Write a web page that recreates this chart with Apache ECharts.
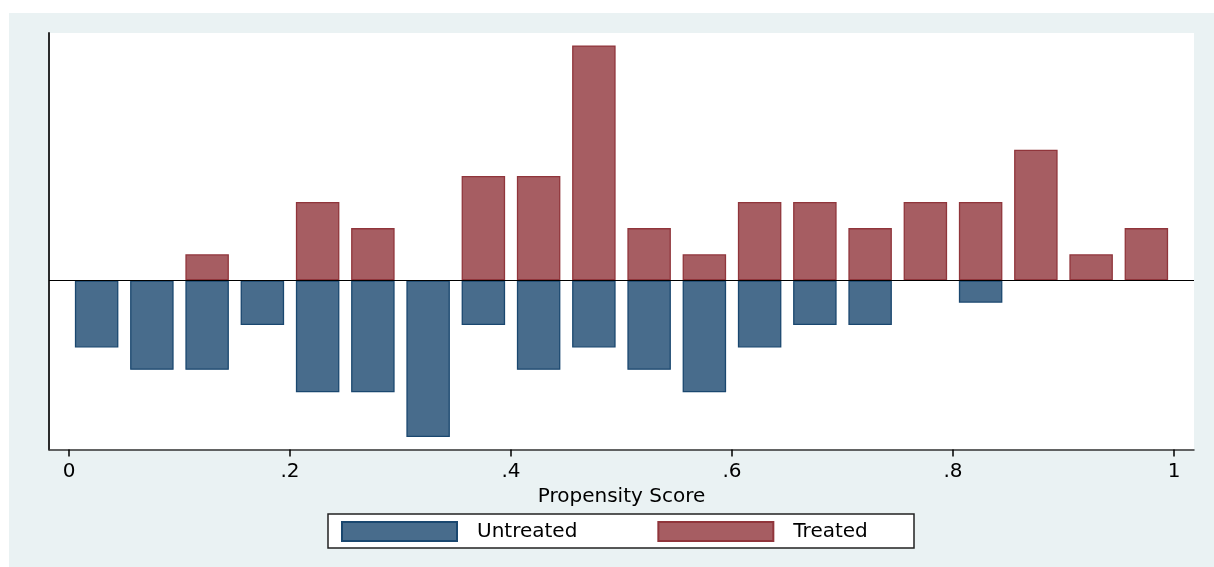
<!DOCTYPE html>
<html>
<head>
<meta charset="utf-8">
<script src="https://cdn.jsdelivr.net/npm/echarts@6/dist/echarts.min.js"></script>
<style>
  html, body { margin: 0; padding: 0; background: #ffffff; width: 1214px; height: 567px; overflow: hidden; }
  #chart { position: absolute; left: 9px; top: 13px; width: 1205px; height: 554px; background: #EAF2F3; }
</style>
</head>
<body>
<div id="chart"></div>
<script>
// Bin centres of the propensity-score histogram (bin width 0.05)
const binCenters = [0.025, 0.075, 0.125, 0.175, 0.225, 0.275, 0.325, 0.375, 0.425, 0.475,
                    0.525, 0.575, 0.625, 0.675, 0.725, 0.775, 0.825, 0.875, 0.925, 0.975];
// Fraction of treated units per bin (drawn above zero)
const treatedValues = [0, 0, 0.0208, 0, 0.0625, 0.0417, 0, 0.0833, 0.0833, 0.1875,
                       0.0417, 0.0208, 0.0625, 0.0625, 0.0417, 0.0625, 0.0625, 0.1042, 0.0208, 0.0417];
// Fraction of untreated units per bin (drawn below zero)
const untreatedValues = [-0.0536, -0.0714, -0.0714, -0.0357, -0.0893, -0.0893, -0.125, -0.0357, -0.0714, -0.0536,
                         -0.0714, -0.0893, -0.0536, -0.0357, -0.0357, 0, -0.0179, 0, 0, 0];
const xTickValues = [0, 0.2, 0.4, 0.6, 0.8, 1];
const xTickLabels = ['0', '.2', '.4', '.6', '.8', '1'];
const seriesNames = ['Untreated', 'Treated'];
const axisTitle = 'Propensity Score';

const FONT = 'DejaVu Sans';
function pairs(vals) {
  const out = [];
  vals.forEach((v, i) => { if (v !== 0) out.push([binCenters[i], v]); });
  return out;
}

const chart = echarts.init(document.getElementById('chart'), null, { renderer: 'canvas' });
chart.setOption({
  animation: false,
  backgroundColor: 'transparent',
  grid: {
    left: 40, top: 20, right: 20, bottom: 117.5,
    show: true, backgroundColor: '#ffffff', borderWidth: 0
  },
  graphic: [{
    type: 'rect', z: 1,
    shape: { x: 319, y: 501, width: 586, height: 34 },
    style: { fill: '#ffffff', stroke: '#222222', lineWidth: 1.5 }
  }],
  xAxis: {
    type: 'value',
    min: -0.0181, max: 1.0181,
    splitLine: { show: false },
    axisLine: { show: true, onZero: false, lineStyle: { color: '#333333', width: 1.5 } },
    axisTick: { show: true, length: 7, customValues: xTickValues, lineStyle: { color: '#000000', width: 1.5 } },
    axisLabel: {
      customValues: xTickValues, margin: 12,
      color: '#000000', fontFamily: FONT, fontSize: 20,
      formatter: function (v) {
        const i = xTickValues.findIndex(t => Math.abs(t - v) < 1e-9);
        return i >= 0 ? xTickLabels[i] : '';
      }
    },
    name: axisTitle, nameLocation: 'middle', nameGap: 30,
    nameTextStyle: { color: '#000000', fontFamily: FONT, fontSize: 20 }
  },
  yAxis: {
    type: 'value',
    min: -0.135, max: 0.1974,
    splitLine: { show: false },
    axisLine: { show: true, onZero: false, lineStyle: { color: '#2b2b2b', width: 2 } },
    axisTick: { show: false },
    axisLabel: { show: false }
  },
  legend: {
    z: 10,
    left: 332, top: 508, padding: 0,
    data: seriesNames,
    icon: 'rect',
    itemWidth: 115, itemHeight: 19, itemGap: 80,
    textStyle: { color: '#000000', fontFamily: FONT, fontSize: 20, padding: [0, 0, 0, 15] }
  },
  series: [
    {
      name: seriesNames[0], type: 'bar',
      data: pairs(untreatedValues),
      barWidth: 43.5, barGap: '-100%',
      itemStyle: { color: '#486C8C', borderColor: '#1A476F', borderWidth: 1.3 },
      markLine: {
        silent: true, symbol: 'none', label: { show: false },
        lineStyle: { color: '#000000', width: 1.2, type: 'solid' },
        data: [{ yAxis: 0 }]
      }
    },
    {
      name: seriesNames[1], type: 'bar',
      data: pairs(treatedValues),
      barWidth: 43.5, barGap: '-100%',
      itemStyle: { color: '#A65D62', borderColor: '#90353B', borderWidth: 1.3 }
    }
  ]
});
</script>
</body>
</html>
